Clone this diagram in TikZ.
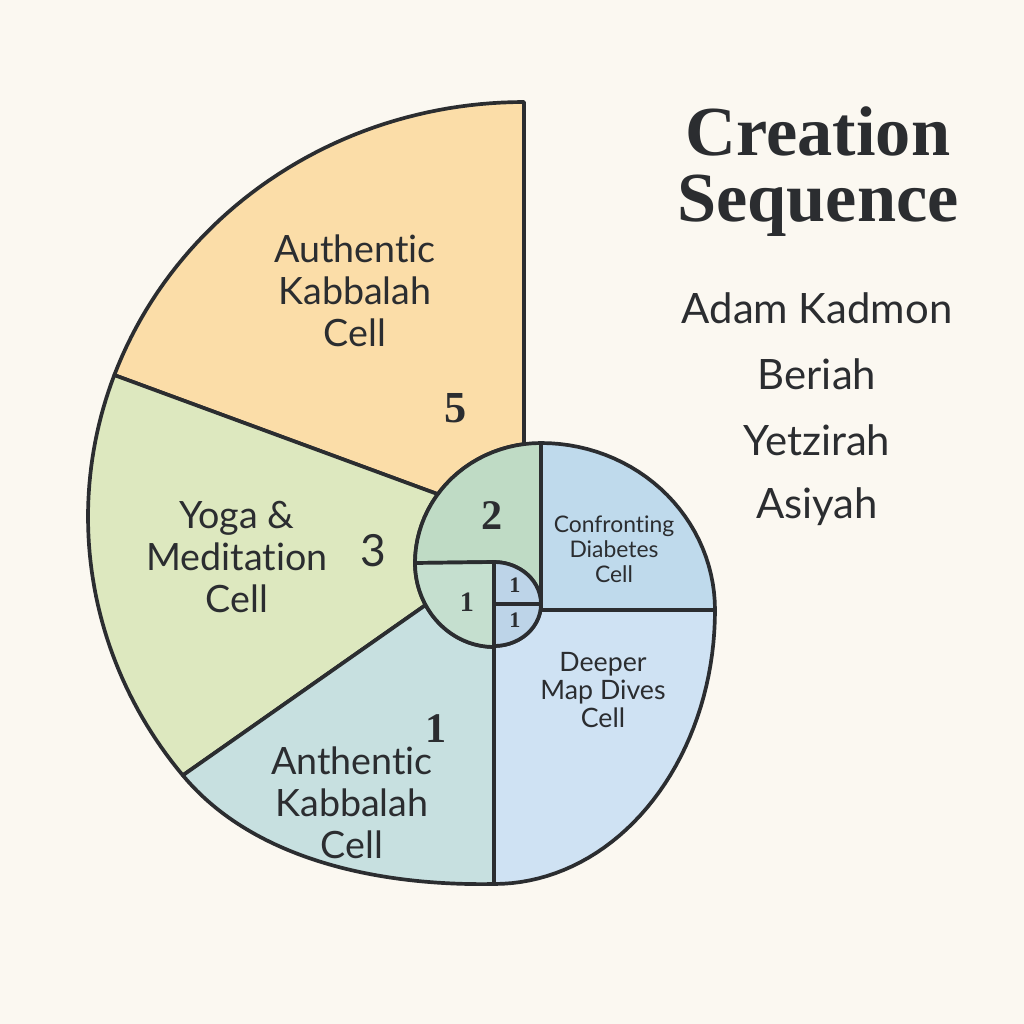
\documentclass[tikz,border=0pt]{standalone}
\usepackage{fontspec}
\setmainfont{Liberation Serif}
\setsansfont[Ligatures=NoCommon]{Lato}
\usetikzlibrary{positioning}

\definecolor{paper}{HTML}{FBF8F1}
\definecolor{ink}{HTML}{2B2D30}
\definecolor{peach}{HTML}{FBDDA8}
\definecolor{yogagreen}{HTML}{DDE8BF}
\definecolor{tealcell}{HTML}{C7E0E0}
\definecolor{mapblue}{HTML}{CFE2F3}
\definecolor{diabblue}{HTML}{BFDAEC}
\definecolor{sagetwo}{HTML}{BFDBC5}
\definecolor{sageone}{HTML}{C5DFCF}
\definecolor{tinyblue}{HTML}{BDD4E8}

\begin{document}
\begin{tikzpicture}[x=0.01cm, y=-0.01cm, line join=round]
    \tikzset{
        cell/.style={draw=ink, line width=1.05pt},
        celltext/.style={font=\sffamily\fontsize{10.7}{12}\selectfont, text=ink, align=center},
        numtext/.style={font=\rmfamily\bfseries, text=ink},
        listtext/.style={font=\sffamily\fontsize{11.9}{14}\selectfont, text=ink}
    }

    \fill[paper] (0,0) rectangle (1024,1024);
    \useasboundingbox (0,0) rectangle (1024,1024);

    \coordinate (top)   at (524,102);
    \coordinate (oy)    at ({524+436*cos(160)},{517-415*sin(160)});
    \coordinate (yt)    at ({524+436*cos(218.5)},{517-415*sin(218.5)});
    \coordinate (eye)   at (494,604);
    \coordinate (base)  at (494,884);
    \coordinate (mid)   at (541,610);
    \coordinate (rim)   at (715,610);

    \filldraw[cell, fill=peach] (top) -- ({541+126*cos(97.8)},{563-120*sin(97.8)})
        -- plot[domain=97.8:145, samples=20] ({541+126*cos(\x)},{563-120*sin(\x)})
        -- (oy) -- plot[domain=160:90, samples=50] ({524+436*cos(\x)},{517-415*sin(\x)}) -- cycle;

    \filldraw[cell, fill=yogagreen] (oy) -- plot[domain=145:180, samples=15] ({541+126*cos(\x)},{563-120*sin(\x)})
        -- plot[domain=180:210, samples=15] ({494+79*cos(\x)},{563-84*sin(\x)})
        -- (yt) -- plot[domain=218.5:160, samples=50] ({524+436*cos(\x)},{517-415*sin(\x)}) -- cycle;

    \filldraw[cell, fill=tealcell] (yt) -- plot[domain=210:270, samples=20] ({494+79*cos(\x)},{563-84*sin(\x)})
        -- (base) .. controls (384,886) and (255,862) .. (yt) -- cycle;

    \filldraw[cell, fill=mapblue] (base) -- (494,646)
        -- plot[domain=-90:0, samples=20] ({494+47*cos(\x)},{604-42*sin(\x)})
        -- (mid) -- (rim) -- plot[domain=0:-90, samples=40] ({494+221*cos(\x)},{610-274*sin(\x)}) -- cycle;

    \filldraw[cell, fill=diabblue] (541,443) -- (mid) -- (rim)
        -- plot[domain=0:90, samples=30] ({541+174*cos(\x)},{610-167*sin(\x)}) -- cycle;

    \filldraw[cell, fill=sagetwo] (415,563) -- (494,562)
        -- plot[domain=90:0, samples=20] ({494+47*cos(\x)},{604-42*sin(\x)})
        -- (541,443) -- plot[domain=90:180, samples=25] ({541+126*cos(\x)},{563-120*sin(\x)}) -- cycle;

    \filldraw[cell, fill=sageone] (415,563) -- (494,562) -- (494,646)
        -- plot[domain=270:180, samples=20] ({494+79*cos(\x)},{563-84*sin(\x)}) -- cycle;

    \filldraw[cell, fill=tinyblue] (eye) -- (494,562)
        -- plot[domain=90:0, samples=15] ({494+47*cos(\x)},{604-42*sin(\x)}) -- cycle;
    \filldraw[cell, fill=tinyblue] (eye) -- (494,646)
        -- plot[domain=-90:0, samples=15] ({494+47*cos(\x)},{604-42*sin(\x)}) -- cycle;

    \node[celltext] (authentic) at (355,291) {Authentic\\Kabbalah\\Cell};
    \node[celltext] (yoga) at (237,557) {Yoga \&\\Meditation\\Cell};
    \node[celltext] (anthentic) at (352,803) {Anthentic\\Kabbalah\\Cell};
    \node[celltext, font=\sffamily\fontsize{6.5}{7.1}\selectfont] (diabetes) at (614,549) {Confronting\\Diabetes\\Cell};
    \node[celltext, font=\sffamily\fontsize{7.6}{8}\selectfont] (deeper) at (603,690) {Deeper\\Map Dives\\Cell};

    \node[numtext, font=\rmfamily\bfseries\fontsize{12.6}{14}\selectfont] (five) at (456,408) {5};
    \node[celltext, font=\sffamily\fontsize{12.6}{14}\selectfont] (three) at (373,551) {3};
    \node[numtext, font=\rmfamily\bfseries\fontsize{12}{14}\selectfont] (two) at (492,516) {2};
    \node[numtext, font=\rmfamily\bfseries\fontsize{8}{10}\selectfont] (onegreen) at (467,602) {1};
    \node[numtext, font=\rmfamily\bfseries\fontsize{6.3}{8}\selectfont] (oneup) at (515,585) {1};
    \node[numtext, font=\rmfamily\bfseries\fontsize{6.3}{8}\selectfont] (onedown) at (515,620) {1};
    \node[numtext, font=\rmfamily\bfseries\fontsize{12}{14}\selectfont] (oneteal) at (436,729) {1};

    \node[text=ink, align=center, font=\rmfamily\bfseries\fontsize{20}{18.8}\selectfont] (title) at (818,172) {Creation\\Sequence};
    \node[listtext] (adam) at (817,308) {Adam Kadmon};
    \node[listtext] (beriah) at (817,374) {Beriah};
    \node[listtext] (yetzirah) at (817,440) {Yetzirah};
    \node[listtext] (asiyah) at (817,507) {Asiyah};
\end{tikzpicture}
\end{document}
